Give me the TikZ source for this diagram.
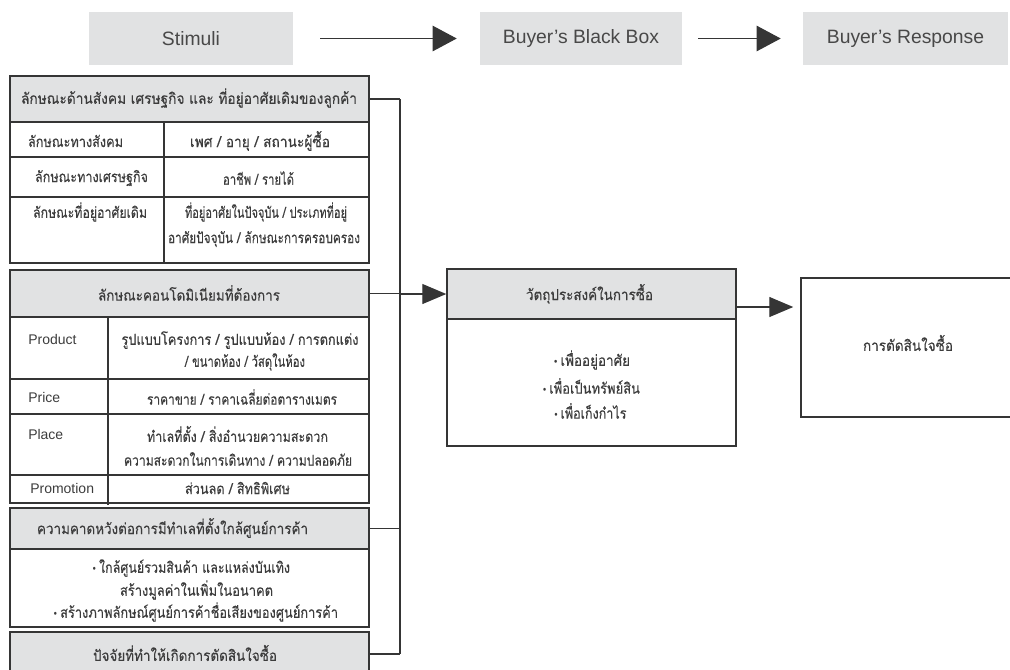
\documentclass[tikz,border=0pt]{standalone}
\usepackage{fontspec}
\usepackage{graphicx}
\setmainfont{Liberation Sans}
\newfontfamily\thai[Script=Thai, FakeBold=0.3]{Loma}
\newfontfamily\dv{DejaVu Sans}
\usetikzlibrary{arrows.meta}
\definecolor{boxgray}{HTML}{E1E2E3}
\definecolor{edge}{HTML}{353535}
\definecolor{ink}{HTML}{3C3C3C}
\definecolor{hink}{HTML}{484848}
\newdimen\pxu \pxu=0.75pt
\newcommand{\bul}{{\dv\fontsize{7.5}{8}\selectfont •}\,}
\newcommand{\fitw}[2]{\resizebox{#1\pxu}{\height}{#2}}
\tikzset{
 sz/.style 2 args={minimum width=#1*0.75pt, minimum height=#2*0.75pt},
 hdr/.style={fill=boxgray, inner sep=0pt, text=hink, font=\fontsize{14.5}{16}\selectfont},
 cell/.style={draw=edge, line width=1.1pt, inner sep=0pt},
 ghead/.style={cell, fill=boxgray},
 gridline/.style={draw=edge, line width=1.1pt},
 th/.style={text=ink, inner sep=0pt, font=\thai\fontsize{11.3}{13}\selectfont},
 lt/.style={text=ink, inner sep=0pt, font=\fontsize{10.5}{12}\selectfont},
 arr/.style={draw=edge, line width=1pt, -{Triangle[length=18pt,width=15pt]}},
 bigarr/.style={draw=edge, line width=1pt, -{Triangle[length=18pt,width=19pt]}},
 link/.style={draw=edge, line width=1pt},
}
\begin{document}
\begin{tikzpicture}[x=0.75pt,y=-0.75pt]
\useasboundingbox (0,0) rectangle (1010,669);
% top row
\node[hdr, sz={204}{53}] (stim) at (191,38.5) {Stimuli};
\node[hdr, sz={202}{53}] (bbox) at (581,38.5) {Buyer’s Black Box};
\node[hdr, sz={205}{53}] (resp) at (905.5,38.5) {Buyer’s Response};
\draw[bigarr, shorten <=20.25pt, shorten >=17.25pt] (stim) -- (bbox);
\draw[bigarr, shorten <=12pt, shorten >=16.5pt] (bbox) -- (resp);
% table 1
\node[ghead, sz={359}{46}] (h1) at (189.5,99) {};
\node[th] (h1t) at (189,98) {\fitw{336}{ลักษณะด้านสังคม เศรษฐกิจ และ ที่อยู่อาศัยเดิมของลูกค้า}};
\node[cell, sz={359}{141}] (b1) at (189.5,192.5) {};
\draw[gridline] (10,157) -- (369,157) (10,197) -- (369,197) (164,122) -- (164,263);
\node[th] (r1a) at (75.5,141) {\fitw{95}{ลักษณะทางสังคม}};
\node[th] (r1b) at (260,141) {\fitw{140}{เพศ / อายุ / สถานะผู้ซื้อ}};
\node[th] (r2a) at (91.5,178) {\fitw{113}{ลักษณะทางเศรษฐกิจ}};
\node[th] (r2b) at (258.5,178) {\fitw{71}{อาชีพ / รายได้}};
\node[th] (r3a) at (90,212) {\fitw{114}{ลักษณะที่อยู่อาศัยเดิม}};
\node[th] (r3b) at (266,212) {\fitw{162}{ที่อยู่อาศัยในปัจจุบัน / ประเภทที่อยู่}};
\node[th] (r3c) at (264,239) {\fitw{192}{อาศัยปัจจุบัน / ลักษณะการครอบครอง}};
% table 2
\node[ghead, sz={359}{47}] (h2) at (189.5,293.5) {};
\node[th] (h2t) at (189,293) {\fitw{182}{ลักษณะคอนโดมิเนียมที่ต้องการ}};
\node[cell, sz={359}{186}] (b2) at (189.5,410) {};
\draw[gridline] (10,379) -- (369,379) (10,414) -- (369,414) (10,475) -- (369,475) (108,317) -- (108,505);
\node[lt, anchor=west] (p1) at (28,339) {Product};
\node[th] (p1a) at (240,340) {\fitw{237}{รูปแบบโครงการ / รูปแบบห้อง / การตกแต่ง}};
\node[th] (p1b) at (245,362) {\fitw{120}{/ ขนาดห้อง / วัสดุในห้อง}};
\node[lt, anchor=west] (p2) at (28,397) {Price};
\node[th] (p2a) at (242,397) {\fitw{190}{ราคาขาย / ราคาเฉลี่ยต่อตารางเมตร}};
\node[lt, anchor=west] (p3) at (28,434) {Place};
\node[th] (p3a) at (237.5,434) {\fitw{181}{ทำเลที่ตั้ง / สิ่งอำนวยความสะดวก}};
\node[th] (p3b) at (238,459) {\fitw{228}{ความสะดวกในการเดินทาง / ความปลอดภัย}};
\node[lt, anchor=west] (p4) at (30,488) {Promotion};
\node[th] (p4a) at (237.5,488) {\fitw{105}{ส่วนลด / สิทธิพิเศษ}};
% table 3
\node[ghead, sz={359}{41}] (h3) at (189.5,528.5) {};
\node[th] (h3t) at (172.5,528) {\fitw{271}{ความคาดหวังต่อการมีทำเลที่ตั้งใกล้ศูนย์การค้า}};
\node[cell, sz={359}{78}] (b3) at (189.5,588) {};
\node[th] (e1) at (191,568) {\fitw{198}{\bul ใกล้ศูนย์รวมสินค้า และแหล่งบันเทิง}};
\node[th] (e2) at (196.5,590) {\fitw{153}{สร้างมูลค่าในเพิ่มในอนาคต}};
\node[th] (e3) at (195.5,612) {\fitw{285}{\bul สร้างภาพลักษณ์ศูนย์การค้าชื่อเสียงของศูนย์การค้า}};
% table 4
\node[ghead, sz={359}{44}] (h4) at (189.5,654) {};
\node[th] (h4t) at (185,653) {\fitw{184}{ปัจจัยที่ทำให้เกิดการตัดสินใจซื้อ}};
% connectors
\coordinate (vx) at (400,0);
\draw[link] (h1.east) -- (vx |- h1.east);
\draw[link] (h2.east) -- (vx |- h2.east);
\draw[link] (h3.east) -- (vx |- h3.east);
\draw[link] (h4.east) -- (vx |- h4.east);
\draw[link] (vx |- h1.east) -- (vx |- h4.east);
% middle box
\node[ghead, sz={289}{50}] (mh) at (591.5,294) {};
\node[th] (mht) at (589.5,294) {\fitw{127}{วัตถุประสงค์ในการซื้อ}};
\node[cell, sz={289}{127}] (mb) at (591.5,382.5) {};
\node[th] (m1) at (591.5,360) {\fitw{77}{\bul เพื่ออยู่อาศัย}};
\node[th] (m2) at (591,386) {\fitw{98}{\bul เพื่อเป็นทรัพย์สิน}};
\node[th] (m3) at (590,411) {\fitw{73}{\bul เพื่อเก็งกำไร}};
\draw[arr] (vx |- mh.west) -- (mh.west);
% right box
\node[cell, fill=white, sz={229}{139}] (rb) at (915.5,347.5) {};
\node[th] (rt) at (908,343) {\fitw{90}{การตัดสินใจซื้อ}};
\coordinate (a2) at (736,307);
\draw[arr, shorten >=5.25pt] (a2) -- (a2 -| rb.west);
\end{tikzpicture}
\end{document}
